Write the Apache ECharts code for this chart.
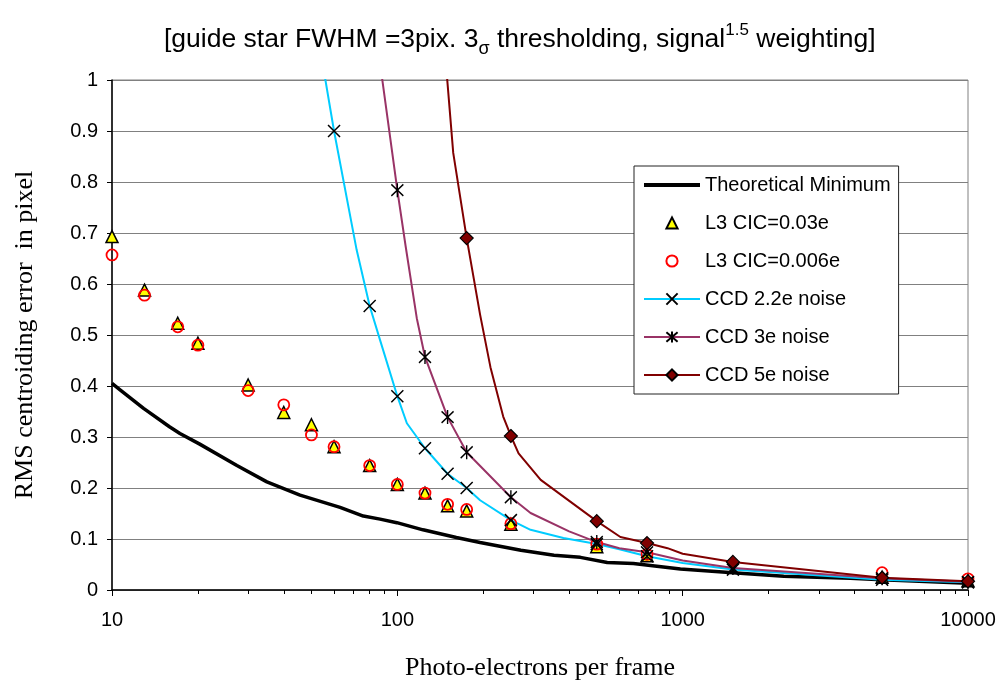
<!DOCTYPE html>
<html>
<head>
<meta charset="utf-8">
<script src="https://cdn.jsdelivr.net/npm/echarts@6/dist/echarts.min.js"></script>
<style>
  html, body { margin: 0; padding: 0; background: #fff; }
  #chart { width: 998px; height: 680px; }
</style>
</head>
<body>
<div id="chart"></div>
<script>
// values, x = photo-electrons per frame
const theoMin = [[10, 0.405], [10.7, 0.392], [12.9, 0.356], [15.9, 0.32], [17.3, 0.307], [20.3, 0.286],
  [27.4, 0.244], [34.9, 0.212], [45.6, 0.186], [63, 0.162], [76, 0.145], [87, 0.139], [99.6, 0.132],
  [123, 0.118], [161, 0.103], [195, 0.093], [271, 0.078], [354, 0.068], [438, 0.064], [544, 0.054],
  [672, 0.052], [982, 0.041], [1500, 0.034], [2260, 0.027], [3870, 0.023], [5000, 0.02], [10000, 0.013]]

const l3Cic003 = [[10, 0.693], [13, 0.588], [17, 0.523], [20, 0.484], [30, 0.402], [40, 0.348], [50, 0.324],
  [60, 0.281], [80, 0.244], [100, 0.207], [125, 0.19], [150, 0.165], [175, 0.155], [250, 0.129],
  [500, 0.085], [750, 0.067], [5000, 0.025], [10000, 0.018]]

const l3Cic0006 = [[10, 0.657], [13, 0.578], [17, 0.516], [20, 0.48], [30, 0.391], [40, 0.363], [50, 0.304],
  [60, 0.281], [80, 0.244], [100, 0.207], [125, 0.19], [150, 0.168], [175, 0.158], [250, 0.13],
  [500, 0.09], [750, 0.07], [5000, 0.034], [10000, 0.022]]

// CCD curves: line path points, and the x values that carry a marker
const ccd22Line = [[55.5, 1.012], [60, 0.9], [72, 0.667], [80, 0.557], [87, 0.49], [100, 0.38], [108, 0.327],
  [125, 0.278], [150, 0.228], [175, 0.2], [195, 0.176], [250, 0.137], [293, 0.118], [382, 0.102],
  [500, 0.09], [600, 0.08], [750, 0.066], [1000, 0.053], [1500, 0.04], [5000, 0.02], [10000, 0.015]]
const ccd22Marks = [60, 80, 100, 125, 150, 175, 250, 500, 750, 1500, 5000, 10000]

const ccd3Line = [[88, 1.012], [100, 0.784], [107, 0.673], [117, 0.533], [125, 0.457], [150, 0.339],
  [175, 0.27], [250, 0.182], [293, 0.151], [400, 0.115], [500, 0.094], [600, 0.082], [750, 0.074],
  [1000, 0.058], [1500, 0.043], [5000, 0.023], [10000, 0.016]]
const ccd3Marks = [100, 125, 150, 175, 250, 500, 750, 1500, 5000, 10000]

const ccd5Line = [[149, 1.012], [157, 0.857], [175, 0.69], [195, 0.54], [212, 0.437], [235, 0.34],
  [250, 0.302], [266, 0.268], [318, 0.216], [500, 0.135], [605, 0.104], [750, 0.092], [885, 0.082],
  [1000, 0.071], [1500, 0.055], [5000, 0.024], [10000, 0.017]]
const ccd5Marks = [175, 250, 500, 750, 1500, 5000, 10000]

const xMajor = [10, 100, 1000, 10000]
const xMinor = [20, 30, 40, 50, 60, 70, 80, 90, 200, 300, 400, 500, 600, 700, 800, 900,
  2000, 3000, 4000, 5000, 6000, 7000, 8000, 9000]

const SANS = "'Liberation Sans', Arial, sans-serif"
const SERIF = "'Liberation Serif', 'Times New Roman', serif"

const markOnly = (pts, marks) => pts.map(p => marks.includes(p[0]) ? p : { value: p, symbol: 'none' })

const chart = echarts.init(document.getElementById('chart'))

const option = {
  animation: false,
  title: {
    text: '[guide star FWHM =3pix. 3{s|σ} thresholding, signal{p|1.5} weighting]',
    left: 159,
    top: 17,
    textStyle: {
      fontFamily: SANS, fontSize: 26.5, fontWeight: 'normal', color: '#000', lineHeight: 36,
      rich: {
        s: { fontFamily: SANS, fontSize: 18, verticalAlign: 'bottom', lineHeight: 36 },
        p: { fontFamily: SANS, fontSize: 17, verticalAlign: 'top', lineHeight: 36 }
      }
    }
  },
  legend: {
    orient: 'vertical',
    left: 634,
    top: 166,
    padding: [9, 8, 9, 8],
    itemWidth: 56,
    itemHeight: 14,
    itemGap: 18,
    backgroundColor: '#fff',
    borderColor: '#222',
    borderWidth: 1,
    textStyle: { fontFamily: SANS, fontSize: 20, color: '#000' },
    data: [
      {
        name: 'Theoretical Minimum',
        itemStyle: { color: 'rgba(0,0,0,0)', borderColor: 'rgba(0,0,0,0)' },
        lineStyle: { width: 4 }
      },
      'L3 CIC=0.03e', 'L3 CIC=0.006e', 'CCD 2.2e noise', 'CCD 3e noise', 'CCD 5e noise'
    ]
  },
  grid: {
    left: 112, right: 30, top: 80, bottom: 90,
    outerBoundsMode: 'none',
    show: true, borderColor: '#808080', borderWidth: 1
  },
  xAxis: [{
    type: 'log', logBase: 10, min: 10, max: 10000, interval: 1,
    name: 'Photo-electrons per frame',
    nameLocation: 'middle', nameGap: 65,
    nameTextStyle: { fontFamily: SERIF, fontSize: 26, color: '#000' },
    axisLine: { lineStyle: { color: '#000', width: 1.5 } },
    axisTick: { length: 6, lineStyle: { color: '#000' }, customValues: xMajor },
    axisLabel: { fontFamily: SANS, fontSize: 20, color: '#000', margin: 20, formatter: v => String(v) },
    splitLine: { show: false }
  }, {
    type: 'log', logBase: 10, min: 10, max: 10000, interval: 1,
    position: 'bottom',
    axisLine: { show: false },
    axisTick: { length: 4, lineStyle: { color: '#000' }, customValues: xMinor },
    axisLabel: { show: false },
    splitLine: { show: false }
  }],
  yAxis: {
    type: 'value', min: 0, max: 1, interval: 0.1,
    name: 'RMS centroiding error  in pixel',
    nameLocation: 'middle', nameGap: 74,
    nameTextStyle: { fontFamily: SERIF, fontSize: 26, color: '#000' },
    axisLine: { show: true, lineStyle: { color: '#000', width: 1.5 } },
    axisTick: { show: true, length: 5, lineStyle: { color: '#000' } },
    axisLabel: { fontFamily: SANS, fontSize: 20, color: '#000', margin: 14 },
    splitLine: { lineStyle: { color: '#808080', width: 1 } }
  },
  series: [
    {
      name: 'Theoretical Minimum', type: 'line', data: theoMin,
      symbol: 'none', lineStyle: { color: '#000', width: 3.5 }, itemStyle: { color: '#000' }
    },
    {
      // markers only: a line series with a hidden line, so the legend icon keeps its shape
      name: 'L3 CIC=0.03e', type: 'line', data: l3Cic003,
      symbol: 'triangle', symbolSize: 12, showAllSymbol: true,
      lineStyle: { opacity: 0, width: 0 },
      itemStyle: { color: '#ffff00', borderColor: '#000', borderWidth: 1.5 }
    },
    {
      name: 'L3 CIC=0.006e', type: 'line', data: l3Cic0006,
      symbol: 'circle', symbolSize: 11, showAllSymbol: true,
      lineStyle: { opacity: 0, width: 0 },
      itemStyle: { color: 'rgba(255,255,255,0)', borderColor: '#ff0000', borderWidth: 1.8 }
    },
    {
      name: 'CCD 2.2e noise', type: 'line', data: markOnly(ccd22Line, ccd22Marks),
      symbol: 'path://M0,0L10,10M0,10L10,0', symbolSize: 12, showAllSymbol: true,
      lineStyle: { color: '#00ccff', width: 2 },
      itemStyle: { color: '#000', borderColor: '#000', borderWidth: 1.5 }
    },
    {
      name: 'CCD 3e noise', type: 'line', data: markOnly(ccd3Line, ccd3Marks),
      symbol: 'path://M0,1L10,11M0,11L10,1M5,0L5,12', symbolSize: [12, 14], showAllSymbol: true,
      lineStyle: { color: '#993366', width: 2 },
      itemStyle: { color: '#000', borderColor: '#000', borderWidth: 1.5 }
    },
    {
      name: 'CCD 5e noise', type: 'line', data: markOnly(ccd5Line, ccd5Marks),
      symbol: 'diamond', symbolSize: 13, showAllSymbol: true,
      lineStyle: { color: '#800000', width: 2 },
      itemStyle: { color: '#800000', borderColor: '#000', borderWidth: 1.2 }
    }
  ]
}

chart.setOption(option)
</script>
</body>
</html>
